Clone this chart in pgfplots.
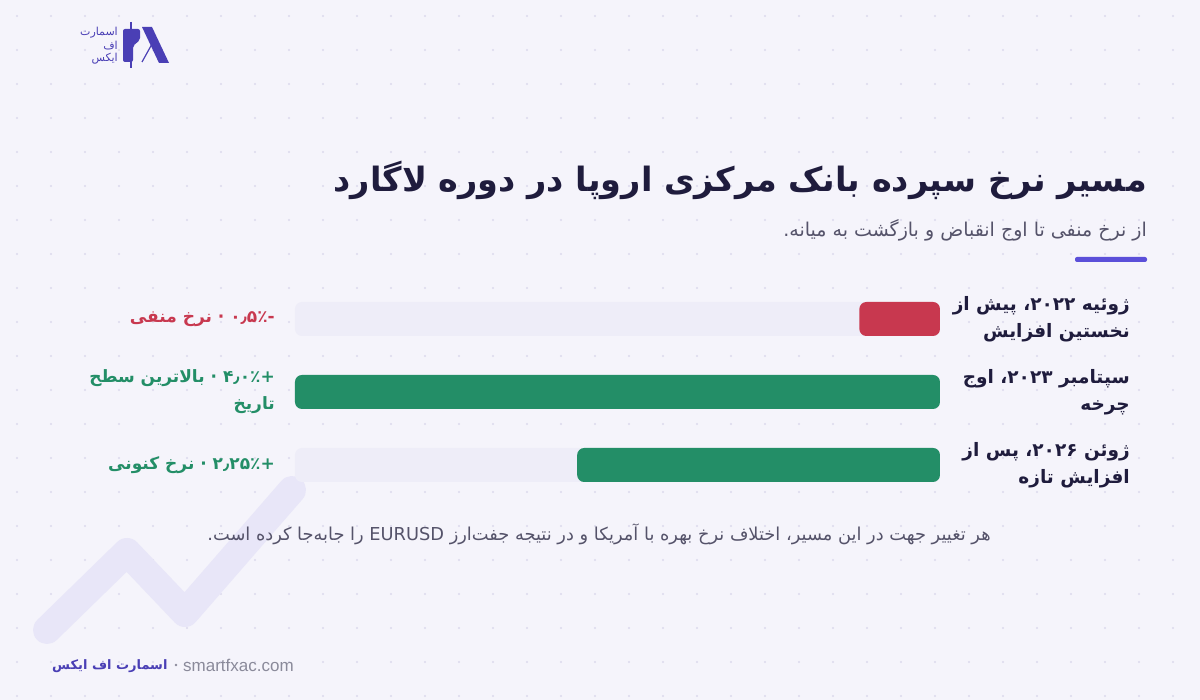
\documentclass[border=0pt]{standalone}
\usepackage{pgfplots}
\pgfplotsset{compat=1.18}
\usepackage{fontspec}
\setmainfont{DejaVu Sans}
\newfontfamily\fa[Script=Arabic]{DejaVu Sans}
\newfontfamily\lat{Liberation Sans}
\TeXXeTstate=1
\definecolor{bgc}{HTML}{F5F4FB}
\definecolor{dotc}{HTML}{DCD9EC}
\definecolor{deco}{HTML}{E8E6F8}
\definecolor{titlec}{HTML}{1F1C3D}
\definecolor{subc}{HTML}{55536A}
\definecolor{accent}{HTML}{5B4FD9}
\definecolor{track}{HTML}{EEEDF8}
\definecolor{redc}{HTML}{C8384F}
\definecolor{greenc}{HTML}{238E67}
\definecolor{logoc}{HTML}{4A3FB5}
\definecolor{footg}{HTML}{8A8A9A}
\begin{document}
\begin{tikzpicture}[x=1pt,y=1pt]
\useasboundingbox (0pt,0pt) rectangle (1200pt,700pt);
% background
\fill[bgc] (0pt,0pt) rectangle (1200pt,700pt);
\foreach \i in {0,...,34}{
  \foreach \j in {0,...,20}{
    \fill[dotc] ({17+34*\i},{700-16-34*\j}) circle (1.2pt);
  }
}
% decorative line
\draw[deco, line width=28pt, line cap=round, line join=round]
  (47,{700-630}) -- (127,{700-552}) -- (185,{700-613}) -- (292,{700-490});
% logo
\fill[logoc, rounded corners=2pt] (123,{700-29}) -- (140,{700-29}) -- (140,{700-40}) -- (133,{700-46}) -- (133,{700-62}) -- (123,{700-62}) -- cycle;
\draw[logoc, line width=1.2pt] (131,{700-22}) -- (131,{700-68});
\fill[logoc] (142,{700-27}) -- (152,{700-27}) -- (169,{700-63}) -- (159,{700-63}) -- cycle;
\draw[logoc, line width=1.2pt] (152,{700-44}) -- (142,{700-62});
\node[anchor=east, text=logoc, font=\fa\fontsize{11}{12}\selectfont, inner sep=0pt] at (118,{700-33}) {\beginR اسمارت\endR};
\node[anchor=east, text=logoc, font=\fa\fontsize{11}{12}\selectfont, inner sep=0pt] at (118,{700-46}) {\beginR اف\endR};
\node[anchor=east, text=logoc, font=\fa\fontsize{11}{12}\selectfont, inner sep=0pt] at (118,{700-59}) {\beginR ایکس\endR};
% titles
\node[anchor=east, text=titlec, font=\fa\bfseries\fontsize{33.5}{40}\selectfont, inner sep=0pt] at (1147,{700-180}) {\beginR مسیر نرخ سپرده بانک مرکزی اروپا در دوره لاگارد\endR};
\node[anchor=east, text=subc, font=\fa\fontsize{19}{22}\selectfont, inner sep=0pt] at (1147,{700-230}) {\beginR از نرخ منفی تا اوج انقباض و بازگشت به میانه.\endR};
\fill[accent, rounded corners=2pt] (1075,{700-262}) rectangle (1147,{700-257});
% footnote
\node[anchor=center, text=subc, font=\fa\fontsize{17.8}{20}\selectfont, inner sep=0pt] at (599,{700-534}) {\beginR هر تغییر جهت در این مسیر، اختلاف نرخ بهره با آمریکا و در نتیجه جفت‌ارز \beginL EURUSD\endL{} را جابه‌جا کرده است.\endR};
% footer
\node[anchor=west, text=logoc, font=\fa\bfseries\fontsize{13}{16}\selectfont, inner sep=0pt] at (52,{700-666}) {\beginR اسمارت اف ایکس\endR};
\fill[footg] (176,{700-665}) circle (1.3pt);
\node[anchor=west, text=footg, font=\lat\fontsize{17}{18}\selectfont, inner sep=0pt] at (183,{700-665}) {smartfxac.com};
% chart
\begin{axis}[
  at={(617.5pt,308pt)}, anchor=center,
  width=645pt, height=219pt, scale only axis,
  xmin=0, xmax=4, x dir=reverse,
  ymin=-0.5, ymax=2.5, y dir=reverse,
  axis lines=none, ticks=none,
  xbar, bar width=34pt, clip=false,
]
\addplot[draw=none, fill=track, bar shift=0pt, rounded corners=7pt] coordinates {(4,0) (4,1) (4,2)};
\addplot[draw=none, fill=redc, bar shift=0pt, rounded corners=7pt] coordinates {(0.5,0)};
\addplot[draw=none, fill=greenc, bar shift=0pt, rounded corners=7pt] coordinates {(4,1) (2.25,2)};
% value labels
\node[anchor=east, xshift=-20pt, text=redc, align=right, font=\fa\bfseries\fontsize{17}{27}\selectfont, inner sep=0pt] at (axis cs:4,0) {\beginR -\kern0pt ۰٫۵٪ · نرخ منفی\endR};
\node[anchor=east, xshift=-20pt, text=greenc, align=right, font=\fa\bfseries\fontsize{17}{27}\selectfont, inner sep=0pt] at (axis cs:4,1) {\beginR +\kern0pt ۴٫۰٪ · بالاترین سطح\endR\\\beginR تاریخ\endR};
\node[anchor=east, xshift=-20pt, text=greenc, align=right, font=\fa\bfseries\fontsize{17}{27}\selectfont, inner sep=0pt] at (axis cs:4,2) {\beginR +\kern0pt ۲٫۲۵٪ · نرخ کنونی\endR};
% category labels
\node[anchor=east, xshift=190pt, text=titlec, align=right, font=\fa\bfseries\fontsize{18.5}{27}\selectfont, inner sep=0pt] at (axis cs:0,0) {\beginR ژوئیه ۲۰۲۲\kern0pt، پیش از\endR\\\beginR نخستین افزایش\endR};
\node[anchor=east, xshift=190pt, text=titlec, align=right, font=\fa\bfseries\fontsize{18.5}{27}\selectfont, inner sep=0pt] at (axis cs:0,1) {\beginR سپتامبر ۲۰۲۳\kern0pt، اوج\endR\\\beginR چرخه\endR};
\node[anchor=east, xshift=190pt, text=titlec, align=right, font=\fa\bfseries\fontsize{18.5}{27}\selectfont, inner sep=0pt] at (axis cs:0,2) {\beginR ژوئن ۲۰۲۶\kern0pt، پس از\endR\\\beginR افزایش تازه\endR};
\end{axis}
\end{tikzpicture}
\end{document}
